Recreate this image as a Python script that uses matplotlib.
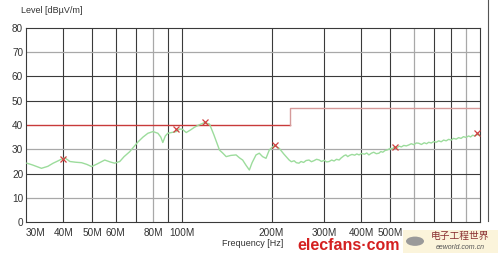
import matplotlib
matplotlib.use("Agg")
import matplotlib.pyplot as plt
from matplotlib.lines import Line2D
from matplotlib.patches import Rectangle

plt.rcParams['font.family'] = ['Liberation Sans', 'DejaVu Sans']

# ---- data (MHz, dBuV/m) ----
trace_freq = [30.2, 31.5, 33.8, 35.5, 37.0, 38.5, 39.5, 40.5, 42.1, 44.0, 46.1, 48.0, 49.8,
              52.0, 55.1, 57.5, 59.5, 61.9, 64.0, 66.8, 71.2, 74.0, 76.9, 80.0, 83.1, 85.0,
              86.3, 88.0, 89.7, 93.0, 95.8, 98.0, 100.3, 103.4, 107.0, 110.3, 114.0, 119.1,
              123.8, 128.0, 133.7, 137.0, 140.8, 146.0, 152.0, 156.0, 159.9, 164.0, 168.4,
              172.0, 177.3, 181.8, 186.5, 191.5, 196.4, 199.0, 204.1, 208.0, 212.1, 220.0,
              229, 233, 238, 242, 247, 251, 256, 261, 267, 272, 277, 283, 289, 294, 300, 306,
              312, 318, 324, 330, 337, 341, 345, 350, 355, 360, 365, 372, 380, 386, 393, 400,
              410, 417, 424, 432, 440, 449, 458, 465, 472, 480, 490, 500, 507, 515, 525, 535,
              545, 555, 566, 577, 588, 600, 611, 623, 636, 650, 662, 673, 686, 700, 713, 727,
              741, 755, 770, 785, 800, 815, 832, 848, 864, 880, 898, 916, 930, 945, 960, 977,
              990, 1000]
trace_level = [24.3, 23.6, 22.2, 23.0, 24.3, 25.3, 26.0, 26.5, 25.0, 24.7, 24.5, 23.8, 22.9,
               24.0, 25.6, 24.8, 24.3, 25.0, 27.0, 29.0, 33.0, 35.0, 36.6, 37.3, 36.6, 35.0,
               32.8, 35.5, 36.6, 37.0, 37.3, 38.3, 38.3, 36.9, 38.0, 39.1, 40.0, 41.0,
               40.4, 36.0, 29.7, 28.5, 27.0, 27.5, 27.7, 26.5, 25.6, 23.5, 21.5,
               24.5, 27.7, 28.4, 27.0, 26.3, 29.7, 30.4, 31.6, 31.0, 30.4, 28.0,
               25.6, 24.9, 25.3, 24.5, 24.3, 25.0, 24.6, 25.4, 25.6, 24.9, 25.3, 25.9, 25.6,
               25.0, 25.5, 24.8, 25.0, 25.6, 25.2, 25.9, 25.6, 26.3, 26.8, 27.4, 27.7, 27.0,
               27.5, 27.9, 27.6, 28.1, 27.7, 28.3, 28.0, 28.5, 27.7, 28.4, 28.8, 28.2, 28.4,
               29.1, 28.8, 29.5, 29.8, 30.4, 30.1, 30.9, 30.6, 31.3, 31.0, 31.6, 31.4, 31.8,
               32.3, 31.9, 32.6, 32.5, 32.0, 32.7, 32.3, 32.9, 32.6, 33.2, 32.9, 33.5, 33.1,
               33.8, 33.5, 34.1, 33.8, 34.5, 34.2, 34.8, 34.5, 35.2, 34.9, 35.5, 35.1, 35.8,
               35.5, 36.1, 35.8, 36.2]

marker_freq = [40.0, 95.8, 120.0, 206.0, 517.0, 977.0]
marker_level = [26.0, 38.4, 41.3, 31.8, 31.1, 36.6]

limit_freq = [30, 230, 230, 1000]
limit_level = [40, 40, 47, 47]

xtick_vals = [30, 40, 50, 60, 80, 100, 200, 300, 400, 500]
xtick_labels = ["30M", "40M", "50M", "60M", "80M", "100M", "200M", "300M", "400M", "500M"]
ytick_vals = [0, 10, 20, 30, 40, 50, 60, 70, 80]

grid_dark_x = [40, 50, 60, 70, 90, 100, 200, 300, 400, 500, 700, 800]
grid_light_x = [80, 600, 900]
grid_dark_y = [20, 50, 60]
grid_light_y = [10, 30, 70]

# ---- figure ----
fig = plt.figure(figsize=(5.0, 2.58), dpi=100)
ax = fig.add_axes([0.052, 0.1384, 0.908, 0.7542])
ax.set_xscale("log")
ax.set_xlim(30, 1000)
ax.set_ylim(0, 80)

for x in grid_dark_x:
    ax.axvline(x, color="#3a3a3a", lw=0.8, zorder=1)
for x in grid_light_x:
    ax.axvline(x, color="#a8a8a8", lw=0.9, zorder=1)
for y in grid_dark_y:
    ax.axhline(y, color="#3a3a3a", lw=0.8, zorder=1)
for y in grid_light_y:
    ax.axhline(y, color="#a8a8a8", lw=0.9, zorder=1)

ax.plot(limit_freq[:2], limit_level[:2], color="#c83a3a", lw=1.0, zorder=2)
ax.plot(limit_freq[1:], limit_level[1:], color="#d59a9a", lw=1.0, zorder=2)
ax.plot(trace_freq, trace_level, color="#9cdc9c", lw=1.0, zorder=3)
ax.plot(marker_freq, marker_level, linestyle="none", marker="x", color="#d04040",
        markersize=4, markeredgewidth=0.9, zorder=4)

for s in ax.spines.values():
    s.set_color("#3a3a3a")
    s.set_linewidth(0.8)

ax.set_xticks(xtick_vals)
ax.set_xticklabels(xtick_labels)
ax.xaxis.set_minor_locator(matplotlib.ticker.NullLocator())
ax.set_yticks(ytick_vals)
ax.tick_params(axis="both", length=0, labelsize=7.2, colors="#333333")
ax.tick_params(axis="x", pad=4)
ax.tick_params(axis="y", pad=2)
ax.get_xticklabels()[0].set_horizontalalignment("left")

fig.text(0.042, 0.961, "Level [dBµV/m]", fontsize=6.5, color="#333333", va="center", ha="left")
fig.text(0.506, 0.055, "Frequency [Hz]", fontsize=6.5, color="#333333", va="center", ha="center")

# right frame line
fig.add_artist(Line2D([0.975, 0.975], [1.0, 0.145], transform=fig.transFigure,
                      color="#555555", lw=0.8))

# watermark
fig.text(0.697, 0.050, "elecfans·com", fontsize=11.5, fontweight="bold", color="#d42020",
         ha="center", va="center")
fig.add_artist(Rectangle((0.806, 0.02), 0.19, 0.09, transform=fig.transFigure,
                         facecolor="#fbf3d8", edgecolor="none", alpha=0.9))
fig.add_artist(plt.Circle((0.83, 0.065), 0.018, transform=fig.transFigure,
                          facecolor="#9a9a9a", edgecolor="none"))
fig.text(0.92, 0.085, "电子工程世界", fontsize=7, color="#8a3030", ha="center", va="center",
         family=["Noto Sans CJK SC", "DejaVu Sans"])
fig.text(0.92, 0.040, "eeworld.com.cn", fontsize=5, color="#555555", ha="center", va="center",
         style="italic")

fig.savefig("out.png", dpi=100, facecolor="white")
